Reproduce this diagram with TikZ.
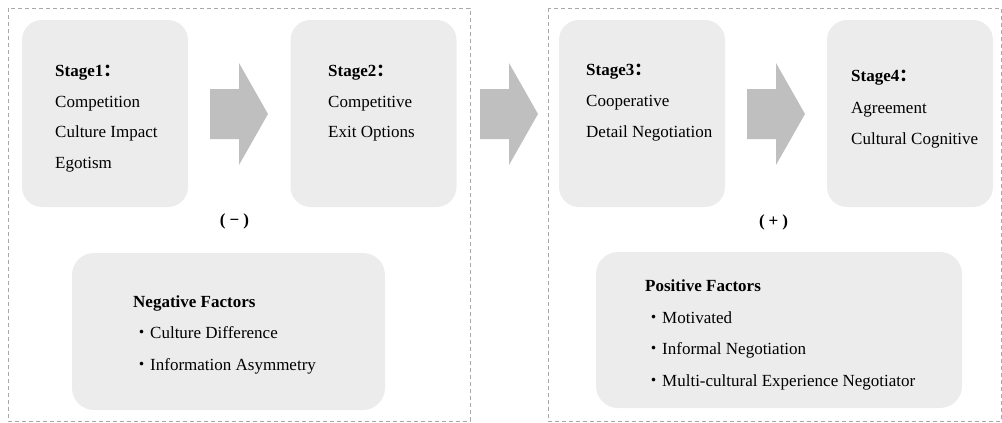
\documentclass[tikz,border=0pt]{standalone}
\usepackage{fontspec}
\setmainfont{Liberation Serif}
\newfontfamily\cjk{Noto Sans CJK SC}
\usepackage{tikz}
\usetikzlibrary{positioning}
\definecolor{boxgray}{HTML}{ECECEC}
\definecolor{arrowgray}{HTML}{BFBFBF}
\definecolor{dashgray}{HTML}{A8A8A8}
\tikzset{
  stagebox/.style={fill=boxgray,rounded corners=20pt,minimum width=166pt,minimum height=187pt,inner sep=0pt},
  factorbox/.style={fill=boxgray,rounded corners=22pt,inner sep=0pt},
  panel/.style={draw=dashgray,dash pattern=on 4pt off 3pt,line width=0.8pt},
  txt/.style={anchor=base west,inner sep=0pt,font=\fontsize{17}{20}\selectfont},
  sign/.style={anchor=base,inner sep=0pt,font=\fontsize{17}{20}\selectfont\bfseries}
}
\newcommand\blockarrow[1]{%
  \fill[arrowgray] (#1,89) -- ++(29,0) -- ++(0,-26) -- ++(29,51) -- ++(-29,51) -- ++(0,-26) -- ++(-29,0) -- cycle;}
\newcommand\dotitem{{\cjk ・}}

\begin{document}
\begin{tikzpicture}[x=1pt,y=-1pt]
\useasboundingbox (0,0) rectangle (1002,423);
% two dashed panels
\draw[panel] (8,8) rectangle (470,421);
\draw[panel] (548,8) rectangle (1001,421);
% stage boxes
\node[stagebox] (s1) at (105,113.5) {};
\node[stagebox] (s2) at (373.5,113.5) {};
\node[stagebox] (s3) at (642,113.5) {};
\node[stagebox] (s4) at (910,113.5) {};
\blockarrow{210}
\blockarrow{480}
\blockarrow{747}
% stage texts
\node[txt] (s1a) at (55,76) {\textbf{Stage1}{\cjk\bfseries ：}};
\node[txt] (s1b) at (55,107) {Competition};
\node[txt] (s1c) at (55,137.5) {Culture Impact};
\node[txt] (s1d) at (55,168) {Egotism};
\node[txt] (s2a) at (328,76) {\textbf{Stage2}{\cjk\bfseries ：}};
\node[txt] (s2b) at (328,107) {Competitive};
\node[txt] (s2c) at (328,137.5) {Exit Options};
\node[txt] (s3a) at (586,75) {\textbf{Stage3}{\cjk\bfseries ：}};
\node[txt] (s3b) at (586,106.5) {Cooperative};
\node[txt] (s3c) at (586,137) {Detail Negotiation};
\node[txt] (s4a) at (851,81.5) {\textbf{Stage4}{\cjk\bfseries ：}};
\node[txt] (s4b) at (851,113) {Agreement};
\node[txt] (s4c) at (851,144.5) {Cultural Cognitive};
% signs
\node[sign] (minus) at (234.5,225) {(\hspace{4pt}−\hspace{4pt})};
\node[sign] (plus) at (773.5,226) {(\hspace{4pt}+\hspace{4pt})};
% factor boxes
\node[factorbox,minimum width=313pt,minimum height=157pt] (neg) at (228.5,331.5) {};
\node[factorbox,minimum width=366pt,minimum height=156pt] (pos) at (779,330) {};
\node[txt] (n0) at (133,307) {\textbf{Negative Factors}};
\node[txt] (n1) at (133,338.5) {\dotitem Culture Difference};
\node[txt] (n2) at (133,370) {\dotitem Information Asymmetry};
\node[txt] (p0) at (645,291.5) {\textbf{Positive Factors}};
\node[txt] (p1) at (645,323) {\dotitem Motivated};
\node[txt] (p2) at (645,354.5) {\dotitem Informal Negotiation};
\node[txt] (p3) at (645,386) {\dotitem Multi-cultural Experience Negotiator};
\end{tikzpicture}
\end{document}
